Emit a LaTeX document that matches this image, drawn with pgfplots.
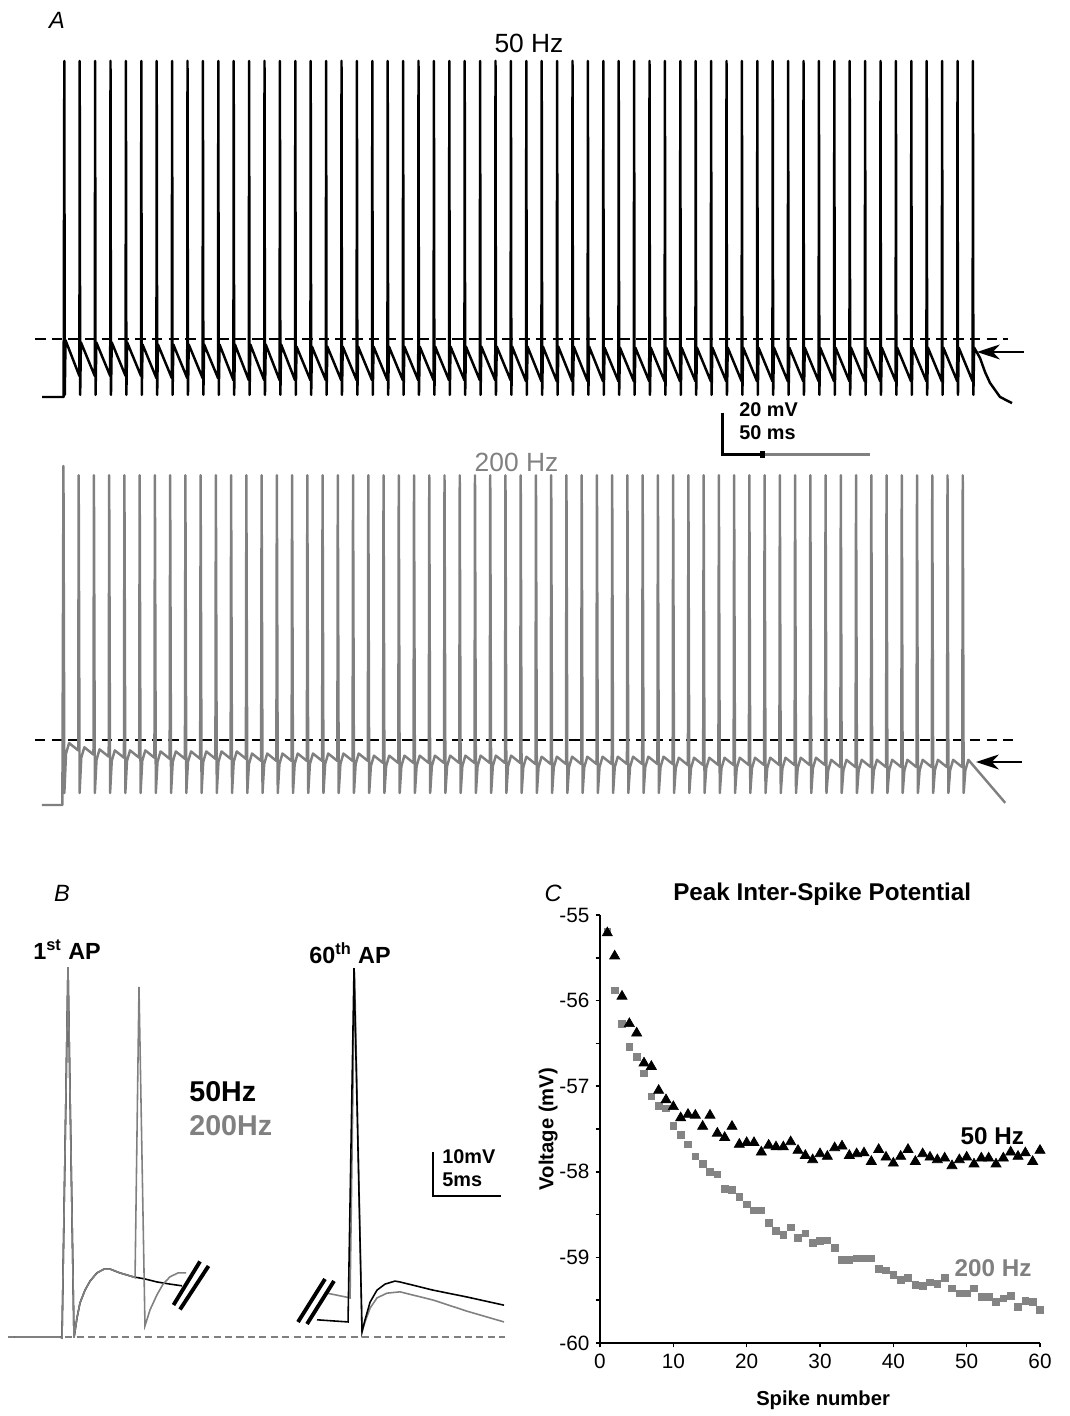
\documentclass[border=0pt]{standalone}
\usepackage{fontspec}
\setmainfont{Liberation Sans}
\usepackage{pgfplots}
\pgfplotsset{compat=1.18}
\usetikzlibrary{arrows.meta}
\definecolor{trgray}{RGB}{128,128,128}
\definecolor{mkgray}{RGB}{132,132,132}

\begin{document}
\begin{tikzpicture}
% page frame: 1 px of the reference = 0.02 cm
\path (0,0) rectangle (21.4,28.32);

% ---------- A, 50 Hz train (t in ms, V in mV) ----------
\begin{axis}[at={(0.664cm,20.17cm)},anchor=south west,width=20.02cm,height=7.14cm,
  scale only axis,xmin=-40,xmax=1260,ymin=-75,ymax=95,hide axis,clip=false]
\addplot[black,line width=1.5pt,dash pattern=on 6pt off 3.5pt] coordinates {(-37.7,-42.4) (1226,-42.4)};
\addplot[black,line width=1.4pt,line join=round] coordinates {
(-28.5,-70)(-0.5,-70)(0.4,90)(1,-69)(2,-43)
(20,-60)(20.4,90)(21,-69)(22,-44)
(40,-60)(40.4,90)(41,-69)(42,-44)
(60,-60)(60.4,90)(61,-69)(62,-44)
(80,-60)(80.4,90)(81,-69)(82,-44)
(100,-60)(100.4,90)(101,-69)(102,-45)
(120,-61)(120.4,90)(121,-69)(122,-45)
(140,-61)(140.4,90)(141,-69)(142,-45)
(160,-61)(160.4,90)(161,-69)(162,-45)
(180,-61)(180.4,90)(181,-69)(182,-45)
(200,-61)(200.4,90)(201,-69)(202,-45)
(220,-62)(220.4,90)(221,-69)(222,-45)
(240,-62)(240.4,90)(241,-69)(242,-45)
(260,-62)(260.4,90)(261,-69)(262,-45)
(280,-62)(280.4,90)(281,-69)(282,-45)
(300,-62)(300.4,90)(301,-69)(302,-46)
(320,-62)(320.4,90)(321,-69)(322,-46)
(340,-62)(340.4,90)(341,-69)(342,-46)
(360,-62)(360.4,90)(361,-69)(362,-46)
(380,-62)(380.4,90)(381,-69)(382,-46)
(400,-62)(400.4,90)(401,-69)(402,-46)
(420,-62)(420.4,90)(421,-69)(422,-46)
(440,-62)(440.4,90)(441,-69)(442,-46)
(460,-62)(460.4,90)(461,-69)(462,-46)
(480,-62)(480.4,90)(481,-69)(482,-46)
(500,-62)(500.4,90)(501,-69)(502,-46)
(520,-62)(520.4,90)(521,-69)(522,-46)
(540,-62)(540.4,90)(541,-69)(542,-46)
(560,-62)(560.4,90)(561,-69)(562,-46)
(580,-62)(580.4,90)(581,-69)(582,-46)
(600,-62.5)(600.4,90)(601,-69)(602,-46)
(620,-62.5)(620.4,90)(621,-69)(622,-46)
(640,-62.5)(640.4,90)(641,-69)(642,-46)
(660,-62.5)(660.4,90)(661,-69)(662,-46)
(680,-62.5)(680.4,90)(681,-69)(682,-46)
(700,-62.5)(700.4,90)(701,-69)(702,-46.5)
(720,-62.5)(720.4,90)(721,-69)(722,-46.5)
(740,-62.5)(740.4,90)(741,-69)(742,-46.5)
(760,-62.5)(760.4,90)(761,-69)(762,-46.5)
(780,-62.5)(780.4,90)(781,-69)(782,-46.5)
(800,-62.5)(800.4,90)(801,-69)(802,-46.5)
(820,-62.5)(820.4,90)(821,-69)(822,-46.5)
(840,-62.5)(840.4,90)(841,-69)(842,-46.5)
(860,-62.5)(860.4,90)(861,-69)(862,-46.5)
(880,-62.5)(880.4,90)(881,-69)(882,-46.5)
(900,-62.5)(900.4,90)(901,-69)(902,-46.5)
(920,-62.5)(920.4,90)(921,-69)(922,-46.5)
(940,-62.5)(940.4,90)(941,-69)(942,-46.5)
(960,-62.5)(960.4,90)(961,-69)(962,-46.5)
(980,-62.5)(980.4,90)(981,-69)(982,-46.5)
(1000,-62.5)(1000.4,90)(1001,-69)(1002,-46.5)
(1020,-62.5)(1020.4,90)(1021,-69)(1022,-46.5)
(1040,-62.5)(1040.4,90)(1041,-69)(1042,-46.5)
(1060,-62.5)(1060.4,90)(1061,-69)(1062,-46.5)
(1080,-62.5)(1080.4,90)(1081,-69)(1082,-46.5)
(1100,-62.5)(1100.4,90)(1101,-69)(1102,-46.5)
(1120,-62.5)(1120.4,90)(1121,-69)(1122,-46.5)
(1140,-62.5)(1140.4,90)(1141,-69)(1142,-46.5)
(1160,-62.5)(1160.4,90)(1161,-69)(1162,-46.5)
(1180,-62.5)(1180.4,90)(1181,-69)(1182,-46.5)
(1189.6,-51.4)(1196.1,-58.1)(1202.6,-63.3)(1215.6,-70)(1231.2,-72.9)};
\end{axis}

% ---------- A, 200 Hz train ----------
\begin{axis}[at={(0.650cm,12.01cm)},anchor=south west,width=20.12cm,height=7.14cm,
  scale only axis,xmin=-10,xmax=320,ymin=-75,ymax=95,hide axis,clip=false]
\addplot[black,line width=1.5pt,dash pattern=on 6pt off 3.5pt] coordinates {(-9.2,-39) (311.7,-39)};
\addplot[trgray,line width=1.4pt,line join=round] coordinates {
(-6.9,-70)(-0.2,-70)(0.15,91.4)(0.45,-64.3)(1,-45.5)(2,-40.5)
(5,-44)(5.15,87)(5.45,-64.3)(6,-47.5)(7,-42.5)
(10,-46)(10.15,87)(10.45,-64.3)(11,-48.5)(12,-43.5)
(15,-47)(15.15,87)(15.45,-64.3)(16,-49)(17,-44)
(20,-47.5)(20.15,87)(20.45,-64.3)(21,-49)(22,-44)
(25,-47.5)(25.15,87)(25.45,-64.3)(26,-49)(27,-44)
(30,-47.5)(30.15,87)(30.45,-64.3)(31,-49.5)(32,-44.5)
(35,-48)(35.15,87)(35.45,-64.3)(36,-49.5)(37,-44.5)
(40,-48)(40.15,87)(40.45,-64.3)(41,-49.5)(42,-44.5)
(45,-48)(45.15,87)(45.45,-64.3)(46,-49.5)(47,-44.5)
(50,-48)(50.15,87)(50.45,-64.3)(51,-49.5)(52,-44.5)
(55,-48)(55.15,87)(55.45,-64.3)(56,-49.5)(57,-44.5)
(60,-48)(60.15,87)(60.45,-64.3)(61,-50.5)(62,-45.5)
(65,-49)(65.15,87)(65.45,-64.3)(66,-50.5)(67,-45.5)
(70,-49)(70.15,87)(70.45,-64.3)(71,-50.5)(72,-45.5)
(75,-49)(75.15,87)(75.45,-64.3)(76,-50.5)(77,-45.5)
(80,-49)(80.15,87)(80.45,-64.3)(81,-50.5)(82,-45.5)
(85,-49)(85.15,87)(85.45,-64.3)(86,-50.5)(87,-45.5)
(90,-49)(90.15,87)(90.45,-64.3)(91,-50.5)(92,-45.5)
(95,-49)(95.15,87)(95.45,-64.3)(96,-50.5)(97,-45.5)
(100,-49)(100.15,87)(100.45,-64.3)(101,-51.5)(102,-46.5)
(105,-50)(105.15,87)(105.45,-64.3)(106,-51.5)(107,-46.5)
(110,-50)(110.15,87)(110.45,-64.3)(111,-51.5)(112,-46.5)
(115,-50)(115.15,87)(115.45,-64.3)(116,-51.5)(117,-46.5)
(120,-50)(120.15,87)(120.45,-64.3)(121,-51.5)(122,-46.5)
(125,-50)(125.15,87)(125.45,-64.3)(126,-51.5)(127,-46.5)
(130,-50)(130.15,87)(130.45,-64.3)(131,-51.5)(132,-46.5)
(135,-50)(135.15,87)(135.45,-64.3)(136,-51.5)(137,-46.5)
(140,-50)(140.15,87)(140.45,-64.3)(141,-51.5)(142,-46.5)
(145,-50)(145.15,87)(145.45,-64.3)(146,-51.5)(147,-46.5)
(150,-50)(150.15,87)(150.45,-64.3)(151,-52)(152,-47)
(155,-50.5)(155.15,87)(155.45,-64.3)(156,-52)(157,-47)
(160,-50.5)(160.15,87)(160.45,-64.3)(161,-52)(162,-47)
(165,-50.5)(165.15,87)(165.45,-64.3)(166,-52)(167,-47)
(170,-50.5)(170.15,87)(170.45,-64.3)(171,-52)(172,-47)
(175,-50.5)(175.15,87)(175.45,-64.3)(176,-52)(177,-47)
(180,-50.5)(180.15,87)(180.45,-64.3)(181,-52)(182,-47)
(185,-50.5)(185.15,87)(185.45,-64.3)(186,-52)(187,-47)
(190,-50.5)(190.15,87)(190.45,-64.3)(191,-52)(192,-47)
(195,-50.5)(195.15,87)(195.45,-64.3)(196,-52)(197,-47)
(200,-50.5)(200.15,87)(200.45,-64.3)(201,-52.5)(202,-47.5)
(205,-51)(205.15,87)(205.45,-64.3)(206,-52.5)(207,-47.5)
(210,-51)(210.15,87)(210.45,-64.3)(211,-52.5)(212,-47.5)
(215,-51)(215.15,87)(215.45,-64.3)(216,-52.5)(217,-47.5)
(220,-51)(220.15,87)(220.45,-64.3)(221,-52.5)(222,-47.5)
(225,-51)(225.15,87)(225.45,-64.3)(226,-52.5)(227,-47.5)
(230,-51)(230.15,87)(230.45,-64.3)(231,-52.5)(232,-47.5)
(235,-51)(235.15,87)(235.45,-64.3)(236,-52.5)(237,-47.5)
(240,-51)(240.15,87)(240.45,-64.3)(241,-52.5)(242,-47.5)
(245,-51)(245.15,87)(245.45,-64.3)(246,-52.5)(247,-47.5)
(250,-51)(250.15,87)(250.45,-64.3)(251,-53.5)(252,-48.5)
(255,-52)(255.15,87)(255.45,-64.3)(256,-53.5)(257,-48.5)
(260,-52)(260.15,87)(260.45,-64.3)(261,-53.5)(262,-48.5)
(265,-52)(265.15,87)(265.45,-64.3)(266,-53.5)(267,-48.5)
(270,-52)(270.15,87)(270.45,-64.3)(271,-53.5)(272,-48.5)
(275,-52)(275.15,87)(275.45,-64.3)(276,-53.5)(277,-48.5)
(280,-52)(280.15,87)(280.45,-64.3)(281,-53.5)(282,-48.5)
(285,-52)(285.15,87)(285.45,-64.3)(286,-53.5)(287,-48.5)
(290,-52)(290.15,87)(290.45,-64.3)(291,-53.5)(292,-48.5)
(295,-52)(295.15,87)(295.45,-64.3)(296,-53.5)(297,-48.5)
(309.1,-69)};
\end{axis}

% ---------- B, single APs ----------
\begin{axis}[at={(0cm,1.15cm)},anchor=south west,width=10.2cm,height=8.17cm,
  scale only axis,xmin=-5,xmax=32.5,ymin=-75,ymax=20,hide axis,clip=false]
\addplot[trgray,line width=0.6pt,dash pattern=on 4pt off 2.5pt] coordinates {(-4.41,-70) (32.13,-70)};
\addplot[black,line width=0.9pt] coordinates {
(-3.9,-70)(-0.59,-70)(-0.44,-70.2)(0,16)(0.44,-70.2)(0.66,-65.6)(0.88,-62.1)(1.25,-59.1)
(1.62,-57)(2.13,-55.1)(2.65,-54.2)(3.09,-54.2)(3.82,-55.1)(4.78,-56)(5.66,-56.5)
(6.54,-57.2)(7.5,-57.7)(8.38,-58.1)};
\addplot[trgray,line width=0.9pt] coordinates {
(-3.9,-70)(-0.59,-70)(-0.44,-70.2)(0,16)(0.44,-70.2)(0.66,-65.6)(0.88,-62.1)(1.25,-59.1)
(1.62,-57)(2.13,-55.1)(2.65,-54.2)(3.09,-54.2)(3.82,-55.1)(4.78,-56)(4.93,-56.2)
(5.22,11.4)(5.66,-67.4)(6.03,-63.7)(6.54,-60.2)(6.99,-57.7)(7.5,-56)(8.09,-55.1)(8.68,-55.1)};
\addplot[trgray,line width=0.9pt] coordinates {
(19.04,-59.8)(20.74,-60.9)(21.07,14.9)(21.62,-68.8)(21.84,-66.5)(22.21,-63.3)(22.72,-60.9)
(23.46,-59.8)(24.41,-59.5)(26.84,-61.4)(29.34,-64)(32.06,-66.5)};
\addplot[black,line width=0.9pt] coordinates {
(18.31,-66)(20.59,-66.5)(21.03,15.8)(21.62,-68.8)(21.84,-66)(22.21,-61.9)(22.72,-59.1)
(23.31,-57.7)(24.04,-57)(24.41,-57.2)(26.84,-59.1)(29.34,-60.7)(32.06,-62.6)};
\end{axis}

% ---------- C, peak inter-spike potential ----------
\begin{axis}[at={(12.0cm,1.46cm)},anchor=south west,width=8.8cm,height=8.56cm,scale only axis,
  xmin=0,xmax=60,ymin=-60,ymax=-55,
  axis lines*=left,axis line style={line width=1.6pt},
  xtick={0,10,...,60},ytick={-60,-59,...,-55},minor ytick={-59.5,-58.5,...,-55.5},
  tick align=outside,major tick length=2.5pt,minor tick length=2.5pt,
  every tick/.style={black,line width=0.9pt},
  tick label style={font=\fontsize{11.8}{13}\selectfont},
  /pgf/number format/assume math mode=true,
  xlabel={Spike number},ylabel={Voltage (mV)},
  label style={font=\bfseries\fontsize{11.5}{13}\selectfont},
  xlabel style={at={(axis description cs:0.507,-0.133)},anchor=center},
  ylabel style={at={(axis description cs:-0.118,0.5)},anchor=center},
  title={Peak Inter-Spike Potential},
  title style={font=\bfseries\fontsize{13.8}{15}\selectfont,at={(axis description cs:0.505,1.023)},anchor=center},
  clip=false]
\addplot[only marks,mark=square*,mark size=1.9pt,mkgray,mark options={draw=none}] coordinates {
(1,-55.19)(2,-55.88)(3,-56.27)(4,-56.54)(5,-56.66)(6,-56.85)(7,-57.12)(8,-57.23)(9,-57.26)(10,-57.46)
(11,-57.57)(12,-57.68)(13,-57.82)(14,-57.91)(15,-58.00)(16,-58.03)(17,-58.20)(18,-58.21)(19,-58.29)(20,-58.38)
(21,-58.45)(22,-58.45)(23,-58.60)(24,-58.69)(25,-58.74)(26,-58.65)(27,-58.77)(28,-58.72)(29,-58.83)(30,-58.81)
(31,-58.80)(32,-58.89)(33,-59.03)(34,-59.03)(35,-59.01)(36,-59.01)(37,-59.01)(38,-59.13)(39,-59.15)(40,-59.20)
(41,-59.26)(42,-59.24)(43,-59.32)(44,-59.33)(45,-59.29)(46,-59.31)(47,-59.24)(48,-59.36)(49,-59.42)(50,-59.42)
(51,-59.36)(52,-59.46)(53,-59.46)(54,-59.52)(55,-59.48)(56,-59.45)(57,-59.58)(58,-59.51)(59,-59.52)(60,-59.61)};
\addplot[only marks,mark=triangle*,mark size=3.3pt,black] coordinates {
(1,-55.21)(2,-55.48)(3,-55.95)(4,-56.27)(5,-56.38)(6,-56.73)(7,-56.77)(8,-57.05)(9,-57.16)(10,-57.24)
(11,-57.37)(12,-57.33)(13,-57.34)(14,-57.47)(15,-57.34)(16,-57.55)(17,-57.60)(18,-57.47)(19,-57.68)(20,-57.66)
(21,-57.66)(22,-57.77)(23,-57.69)(24,-57.71)(25,-57.71)(26,-57.65)(27,-57.75)(28,-57.81)(29,-57.86)(30,-57.79)
(31,-57.82)(32,-57.72)(33,-57.70)(34,-57.81)(35,-57.79)(36,-57.78)(37,-57.88)(38,-57.74)(39,-57.83)(40,-57.90)
(41,-57.82)(42,-57.74)(43,-57.88)(44,-57.79)(45,-57.83)(46,-57.86)(47,-57.84)(48,-57.93)(49,-57.86)(50,-57.83)
(51,-57.91)(52,-57.84)(53,-57.84)(54,-57.91)(55,-57.84)(56,-57.77)(57,-57.82)(58,-57.78)(59,-57.88)(60,-57.75)};
\node[font=\bfseries\fontsize{13.8}{15}\selectfont] at (axis cs:53.5,-57.58) {50 Hz};
\node[font=\bfseries\fontsize{13.8}{15}\selectfont,trgray] at (axis cs:53.6,-59.12) {200 Hz};
\end{axis}

% ---------- labels, scale bars, arrows ----------
\node[font=\itshape\fontsize{13.4}{15}\selectfont] at (1.14,27.92) {A};
\node[font=\fontsize{15}{17}\selectfont] at (10.58,27.46) {50 Hz};
\node[font=\fontsize{15}{17}\selectfont,trgray] at (10.33,19.08) {200 Hz};
\node[font=\bfseries\fontsize{11.3}{13}\selectfont,anchor=west,inner sep=0pt] at (14.78,20.12) {20 mV};
\node[font=\bfseries\fontsize{11.3}{13}\selectfont,anchor=west,inner sep=0pt] at (14.78,19.66) {50 ms};
\draw[trgray,line width=1.7pt] (15.24,19.22) -- (17.40,19.22);
\draw[black,line width=1.7pt] (14.44,20.06) -- (14.44,19.22) -- (15.24,19.22);
\fill[black] (15.19,19.15) rectangle (15.29,19.29);
\draw[-{Stealth[length=13pt,width=8.5pt,inset=4pt]},line width=1.1pt] (20.48,21.28) -- (19.54,21.28);
\draw[-{Stealth[length=13pt,width=8.5pt,inset=4pt]},line width=1.1pt] (20.44,13.08) -- (19.52,13.08);

\node[font=\itshape\fontsize{13.4}{15}\selectfont] at (1.24,10.46) {B};
\node[font=\itshape\fontsize{13.4}{15}\selectfont] at (11.06,10.46) {C};
\node[font=\bfseries\fontsize{13.3}{15}\selectfont,anchor=west,inner sep=0pt] at (0.66,9.32) {1\textsuperscript{st} AP};
\node[font=\bfseries\fontsize{13.3}{15}\selectfont,anchor=west,inner sep=0pt] at (6.18,9.26) {60\textsuperscript{th} AP};
\node[font=\bfseries\fontsize{16.3}{18}\selectfont,anchor=west,inner sep=0pt] at (3.78,6.48) {50Hz};
\node[font=\bfseries\fontsize{16.3}{18}\selectfont,anchor=west,inner sep=0pt,trgray] at (3.78,5.80) {200Hz};
\node[font=\bfseries\fontsize{11.3}{13}\selectfont,anchor=west,inner sep=0pt] at (8.84,5.18) {10mV};
\node[font=\bfseries\fontsize{11.3}{13}\selectfont,anchor=west,inner sep=0pt] at (8.84,4.72) {5ms};
\draw[black,line width=1.1pt] (8.66,5.28) -- (8.66,4.40) -- (10.02,4.40);
\draw[black,line width=2.2pt] (3.47,2.22) -- (4.00,3.09);
\draw[black,line width=2.2pt] (3.60,2.13) -- (4.17,3.00);
\draw[black,line width=2.2pt] (5.96,1.88) -- (6.50,2.74);
\draw[black,line width=2.2pt] (6.14,1.84) -- (6.68,2.70);
\end{tikzpicture}
\end{document}
